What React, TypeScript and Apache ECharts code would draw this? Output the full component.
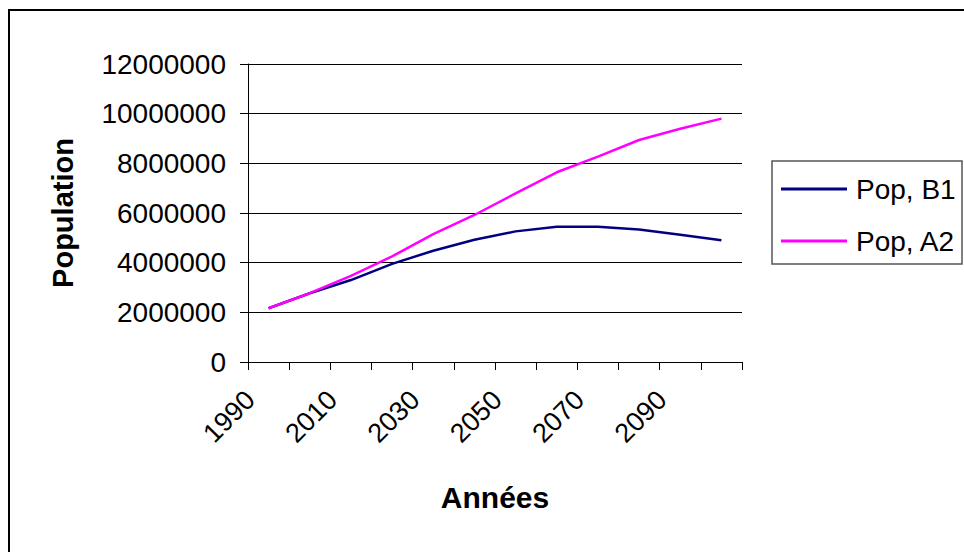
import React, { useEffect, useRef } from "react";
import * as echarts from "echarts";

const years = ["1990", "2000", "2010", "2020", "2030", "2040", "2050", "2060", "2070", "2080", "2090", "2100"];
const popB1 = [2165000, 2770000, 3300000, 3950000, 4480000, 4920000, 5260000, 5450000, 5450000, 5340000, 5120000, 4900000];
const popA2 = [2165000, 2770000, 3470000, 4250000, 5150000, 5920000, 6790000, 7640000, 8270000, 8940000, 9390000, 9800000];
const seriesNames = ["Pop, B1", "Pop, A2"];
const yTitle = "Population";
const xTitle = "Années";

const FONT = "'Liberation Sans', Arial, sans-serif";

export default function App() {
  const ref = useRef<HTMLDivElement>(null);
  useEffect(() => {
    if (!ref.current) return;
    const chart = echarts.init(ref.current, null, { renderer: "svg" });
    chart.setOption({
      animation: false,
      backgroundColor: "#ffffff",
      grid: { left: 248, top: 64, right: 222, bottom: 190, containLabel: false },
      xAxis: {
        type: "category",
        data: years,
        boundaryGap: true,
        axisLine: { lineStyle: { color: "#000", width: 1 } },
        axisTick: { show: true, interval: 0, length: 8, lineStyle: { color: "#000" } },
        axisLabel: {
          interval: 1,
          rotate: 45,
          margin: 15,
          color: "#000",
          fontSize: 27,
          fontFamily: FONT,
          padding: [0, 26, 0, 0],
        },
        splitLine: { show: false },
      },
      yAxis: {
        type: "value",
        min: 0,
        max: 12000000,
        interval: 2000000,
        axisLine: { show: true, lineStyle: { color: "#000", width: 1 } },
        axisTick: { show: true, length: 8, lineStyle: { color: "#000" } },
        axisLabel: {
          margin: 22,
          color: "#000",
          fontSize: 28,
          fontFamily: FONT,
          formatter: (v: number) => String(v),
        },
        splitLine: { show: true, lineStyle: { color: "#000", width: 1 } },
      },
      legend: {
        orient: "vertical",
        left: 781,
        top: 175,
        padding: 0,
        itemGap: 24,
        itemWidth: 66,
        itemHeight: 3,
        icon: "rect",
        data: seriesNames,
        textStyle: { color: "#000", fontSize: 28, lineHeight: 27, fontFamily: FONT, padding: [0, 0, 0, 4] },
      },
      series: [
        {
          name: seriesNames[0],
          type: "line",
          data: popB1,
          showSymbol: false,
          symbol: "none",
          lineStyle: { color: "#000080", width: 2.5 },
          itemStyle: { color: "#000080" },
        },
        {
          name: seriesNames[1],
          type: "line",
          data: popA2,
          showSymbol: false,
          symbol: "none",
          lineStyle: { color: "#ff00ff", width: 2.5 },
          itemStyle: { color: "#ff00ff" },
        },
      ],
      graphic: [
        {
          type: "rect",
          shape: { x: 9, y: 10, width: 1000, height: 600 },
          style: { fill: "none", stroke: "#000", lineWidth: 2 },
          silent: true,
        },
        {
          type: "rect",
          shape: { x: 772, y: 161, width: 190, height: 103 },
          style: { fill: "none", stroke: "#555", lineWidth: 1.5 },
          silent: true,
        },
        {
          type: "text",
          x: 63,
          y: 213,
          rotation: Math.PI / 2,
          style: {
            text: yTitle,
            fill: "#000",
            font: `bold 29px ${FONT}`,
            align: "center",
            verticalAlign: "middle",
          },
        },
        {
          type: "text",
          x: 495,
          y: 497,
          style: {
            text: xTitle,
            fill: "#000",
            font: `bold 30px ${FONT}`,
            align: "center",
            verticalAlign: "middle",
          },
        },
      ],
    });
    return () => chart.dispose();
  }, []);
  return (
    <div
      ref={ref}
      style={{ position: "fixed", left: 0, top: 0, width: 964, height: 552 }}
    />
  );
}
